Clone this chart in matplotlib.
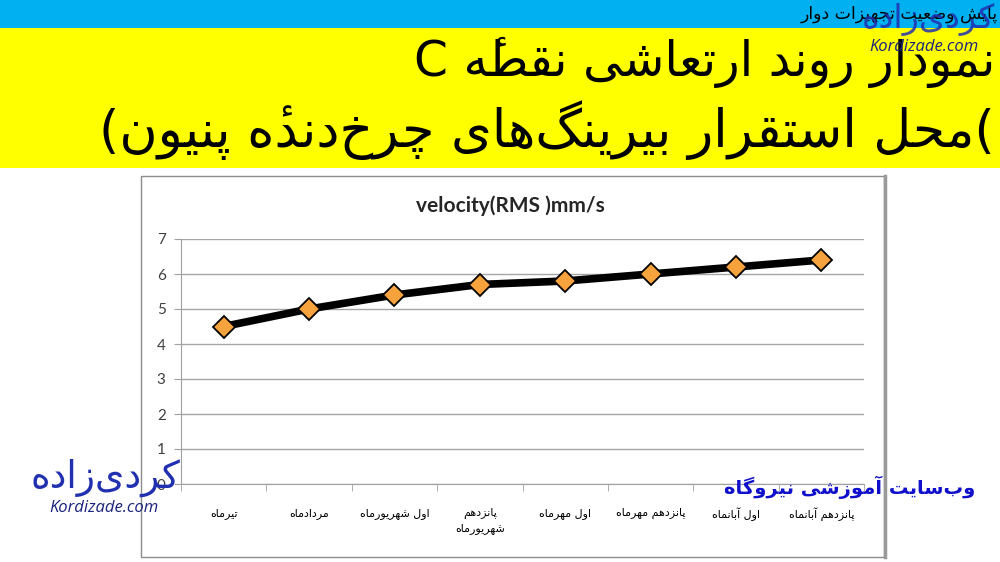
import matplotlib
matplotlib.use("Agg")
import matplotlib.pyplot as plt
import matplotlib.patches as patches
import numpy as np

# chart data
months = ["تیرماه", "مردادماه", "اول شهریورماه", "پانزدهم\nشهریورماه",
          "اول مهرماه", "پانزدهم مهرماه", "اول آبانماه", "پانزدهم آبانماه"]
velocity = [4.5, 5.0, 5.4, 5.7, 5.8, 6.0, 6.2, 6.4]
yticks = [0, 1, 2, 3, 4, 5, 6, 7]

chartTitle = "velocity(RMS )mm/s"
slideTitle1 = "نمودار روند ارتعاشی نقطهٔ C"
slideTitle2 = "محل استقرار بیرینگ‌های چرخ‌دندهٔ پنیون"
topText = "پایش وضعیت تجهیزات دوار"
logoText = "کردی‌زاده"
logoUrl = "Kordizade.com"
siteText = "وب‌سایت آموزشی نیروگاه"

# arabic presentation forms: isolated, final, initial, medial
FORMS = {
    'ا': ('\uFE8D', '\uFE8E', None, None),
    'آ': ('\uFE81', '\uFE82', None, None),
    'ب': ('\uFE8F', '\uFE90', '\uFE91', '\uFE92'),
    'پ': ('\uFB56', '\uFB57', '\uFB58', '\uFB59'),
    'ت': ('\uFE95', '\uFE96', '\uFE97', '\uFE98'),
    'ج': ('\uFE9D', '\uFE9E', '\uFE9F', '\uFEA0'),
    'چ': ('\uFB7A', '\uFB7B', '\uFB7C', '\uFB7D'),
    'ح': ('\uFEA1', '\uFEA2', '\uFEA3', '\uFEA4'),
    'خ': ('\uFEA5', '\uFEA6', '\uFEA7', '\uFEA8'),
    'د': ('\uFEA9', '\uFEAA', None, None),
    'ر': ('\uFEAD', '\uFEAE', None, None),
    'ز': ('\uFEAF', '\uFEB0', None, None),
    'س': ('\uFEB1', '\uFEB2', '\uFEB3', '\uFEB4'),
    'ش': ('\uFEB5', '\uFEB6', '\uFEB7', '\uFEB8'),
    'ض': ('\uFEBD', '\uFEBE', '\uFEBF', '\uFEC0'),
    'ط': ('\uFEC1', '\uFEC2', '\uFEC3', '\uFEC4'),
    'ع': ('\uFEC9', '\uFECA', '\uFECB', '\uFECC'),
    'ق': ('\uFED5', '\uFED6', '\uFED7', '\uFED8'),
    'ک': ('\uFB8E', '\uFB8F', '\uFB90', '\uFB91'),
    'گ': ('\uFB92', '\uFB93', '\uFB94', '\uFB95'),
    'ل': ('\uFEDD', '\uFEDE', '\uFEDF', '\uFEE0'),
    'م': ('\uFEE1', '\uFEE2', '\uFEE3', '\uFEE4'),
    'ن': ('\uFEE5', '\uFEE6', '\uFEE7', '\uFEE8'),
    'و': ('\uFEED', '\uFEEE', None, None),
    'ه': ('\uFEE9', '\uFEEA', '\uFEEB', '\uFEEC'),
    'ی': ('\uFBFC', '\uFBFD', '\uFBFE', '\uFBFF'),
}
MARKS = {'\u0654'}


def rtl(text):
    """shape persian letters and put them in visual (left to right) order"""
    lines = []
    for line in text.split("\n"):
        chars = list(line)
        shaped = []
        for i, c in enumerate(chars):
            if c not in FORMS:
                shaped.append(c)
                continue
            j = i - 1
            while j >= 0 and chars[j] in MARKS:
                j -= 1
            k = i + 1
            while k < len(chars) and chars[k] in MARKS:
                k += 1
            prev = chars[j] if j >= 0 else None
            nxt = chars[k] if k < len(chars) else None
            joinPrev = prev in FORMS and FORMS[prev][2] is not None
            joinNext = nxt in FORMS and FORMS[c][2] is not None
            iso, fin, ini, med = FORMS[c]
            if joinPrev and joinNext:
                shaped.append(med)
            elif joinPrev:
                shaped.append(fin)
            elif joinNext:
                shaped.append(ini)
            else:
                shaped.append(iso)
        # group base + marks, keep latin runs in order
        tokens = []
        for c in shaped:
            if c == '\u200c':
                continue
            if c in MARKS and tokens:
                tokens[-1] += c
            elif c.isascii() and c.isalnum() and tokens and tokens[-1].isascii() and tokens[-1].isalnum():
                tokens[-1] += c
            else:
                tokens.append(c)
        lines.append("".join(reversed(tokens)))
    return "\n".join(lines)


fig = plt.figure(figsize=(10, 5.62), dpi=100)
W, H = 1000, 562


def fx(px):
    return px / W


def fy(py):
    return 1 - py / H


# slide backgrounds
fig.patches.append(patches.Rectangle((0, fy(28)), 1, 28 / H, transform=fig.transFigure,
                                     facecolor="#00B0F0", edgecolor="none", zorder=-5))
fig.patches.append(patches.Rectangle((0, fy(168)), 1, 140 / H, transform=fig.transFigure,
                                     facecolor="#FFFF00", edgecolor="none", zorder=-5))

# chart frame
fig.patches.append(patches.Rectangle((fx(141), fy(557)), 743 / W, 381 / H, transform=fig.transFigure,
                                     facecolor="white", edgecolor="#8c8c8c", linewidth=1, zorder=-5))
fig.lines.append(plt.Line2D([fx(885), fx(885)], [fy(557), fy(176)], transform=fig.transFigure,
                            color="#9a9a9a", linewidth=2.5, zorder=-4))

arab = ["DejaVu Sans"]

fig.text(fx(995), fy(62), rtl(slideTitle1), ha="right", va="center", fontsize=35, family=arab)
fig.text(fx(995), fy(130), "(" + rtl(slideTitle2) + "(", ha="right", va="center", fontsize=37.5, family=arab)
fig.text(fx(998), fy(14), rtl(topText), ha="right", va="center", fontsize=12.5, family=arab)

# logos
fig.text(fx(995), fy(20), rtl(logoText), ha="right", va="center", fontsize=24, color="#2030b0",
         alpha=0.85, family=arab, zorder=5)
fig.text(fx(924), fy(47), logoUrl, ha="center", va="center", fontsize=12, color="#1a237e",
         style="italic", family=["Open Sans"], zorder=5)
fig.text(fx(180), fy(478), rtl(logoText), ha="right", va="center", fontsize=27, color="#2030b0",
         family=arab, zorder=5)
fig.text(fx(104), fy(508), logoUrl, ha="center", va="center", fontsize=12, color="#1a237e",
         style="italic", family=["Open Sans"], zorder=5)
fig.text(fx(975), fy(487), rtl(siteText), ha="right", va="center", fontsize=14, color="#1010cc",
         fontweight="bold", family=arab, zorder=5)

ax = fig.add_axes([fx(181), fy(484), (864 - 181) / W, (484 - 239) / H])
ax.set_zorder(1)
ax.patch.set_alpha(0)
x = np.arange(len(months))
ax.plot(x, velocity, color="black", linewidth=5.5, solid_joinstyle="round", zorder=3)
ax.plot(x, velocity, linestyle="none", marker="D", markersize=11, markerfacecolor="#F6A33D",
        markeredgecolor="black", markeredgewidth=1.3, zorder=4)

ax.set_xlim(-0.5, len(months) - 0.5)
ax.set_ylim(0, 7)
ax.set_yticks(yticks)
ax.set_yticklabels([str(v) for v in yticks], fontsize=11, color="#404040", family=["Lato"])
ax.set_xticks(x)
ax.set_xticklabels([rtl(m) for m in months], fontsize=8, family=arab, linespacing=1.6)
ax.set_xticks(np.arange(-0.5, len(months)), minor=True)
ax.tick_params(axis="x", which="major", length=0, pad=17)
ax.tick_params(axis="x", which="minor", length=5, color="#a0a0a0", direction="out")
ax.tick_params(axis="y", length=5, color="#a0a0a0", direction="out", pad=6)
ax.grid(axis="y", color="#a6a6a6", linewidth=1)
ax.set_axisbelow(True)
for s in ["top", "right"]:
    ax.spines[s].set_visible(False)
for s in ["left", "bottom"]:
    ax.spines[s].set_color("#a0a0a0")

fig.text(fx(510), fy(206), chartTitle, ha="center", va="center", fontsize=15, fontweight="bold",
         color="#262626", family=["Lato"])

fig.savefig("out.png", dpi=100)
